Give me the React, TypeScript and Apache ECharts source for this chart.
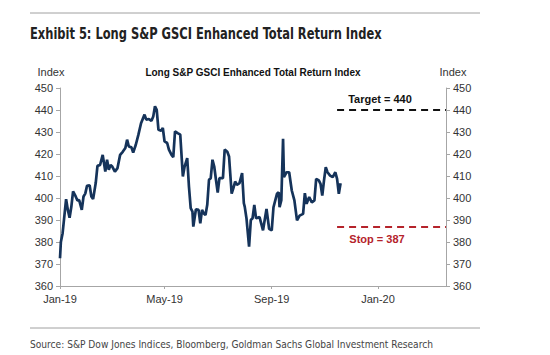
import React, { useEffect, useRef } from "react";
import * as echarts from "echarts";

const dates: string[] = [
  "2019-01-01","2019-01-02","2019-01-04","2019-01-08","2019-01-10","2019-01-12","2019-01-14","2019-01-16","2019-01-19","2019-01-21",
  "2019-01-23","2019-01-26","2019-01-28","2019-01-30","2019-02-01","2019-02-04","2019-02-06","2019-02-08","2019-02-11","2019-02-13",
  "2019-02-16","2019-02-19","2019-02-22","2019-02-24","2019-02-26","2019-02-28","2019-03-02","2019-03-05","2019-03-08","2019-03-11",
  "2019-03-14","2019-03-17","2019-03-19","2019-03-21","2019-03-24","2019-03-26","2019-03-29","2019-04-01","2019-04-04","2019-04-08",
  "2019-04-10","2019-04-13","2019-04-16","2019-04-18","2019-04-20","2019-04-22","2019-04-24","2019-04-27","2019-04-29","2019-05-01",
  "2019-05-04","2019-05-06","2019-05-09","2019-05-11","2019-05-13","2019-05-16","2019-05-19","2019-05-22","2019-05-24","2019-05-27",
  "2019-05-29","2019-05-31","2019-06-02","2019-06-03","2019-06-06","2019-06-09","2019-06-11","2019-06-13","2019-06-15","2019-06-17",
  "2019-06-19","2019-06-21","2019-06-23","2019-06-25","2019-06-27","2019-06-29","2019-07-01","2019-07-03","2019-07-07","2019-07-09",
  "2019-07-12","2019-07-14","2019-07-17","2019-07-19","2019-07-21","2019-07-23","2019-07-26","2019-07-29","2019-07-31","2019-08-01",
  "2019-08-03","2019-08-06","2019-08-08","2019-08-10","2019-08-12","2019-08-14","2019-08-18","2019-08-22","2019-08-26","2019-08-29",
  "2019-09-01","2019-09-03","2019-09-07","2019-09-09","2019-09-10","2019-09-12","2019-09-14","2019-09-15","2019-09-18","2019-09-21",
  "2019-09-24","2019-09-27","2019-09-30","2019-10-03","2019-10-07","2019-10-09","2019-10-11","2019-10-14","2019-10-17","2019-10-20",
  "2019-10-22","2019-10-25","2019-10-27","2019-10-29","2019-10-31","2019-11-02","2019-11-04","2019-11-07","2019-11-10","2019-11-13",
  "2019-11-15","2019-11-17","2019-11-19",
];

const indexValues: number[] = [
  372.6,380,384,399.5,394.6,391,396,403,400.7,398.9,
  399,394.6,400.7,402,405.5,405.8,400.7,399.5,406.8,414.6,
  415,419.6,412,417.4,412.8,415,414.3,412,413.6,419.6,
  421,422.7,426.5,423.4,423,420.7,424.2,428.8,434,437.9,
  435.6,435.9,435.1,437,441.7,440.1,431,430.6,431.8,425.7,
  425,422,419.6,418.6,430.3,429.5,428.8,409.8,414.3,418.1,
  405.2,395.4,393.8,387,394.9,394.6,388.5,394.6,393,392.3,
  396.9,408.3,409,417.4,414.3,408.3,402.5,409,409,422,
  421,418.9,402,404.5,407.5,406,406.8,411.3,397.6,396.1,
  390.8,377.9,390,390.8,396.9,390.8,391.3,385.3,395,386,
  385.3,395.8,401.9,402.6,395.8,399,426.9,409.5,411.7,411.7,
  403.4,398.9,389.8,392,392.8,402.2,397.4,400.4,398,398.9,
  408.7,408,406.4,401.1,408,414,411.7,410.2,409.5,411.7,
  408.7,401.9,406.7,
];

const xTickDates: string[] = ["2019-01-01", "2019-05-01", "2019-09-01", "2020-01-01"];
const xTickLabels: string[] = ["Jan-19", "May-19", "Sep-19", "Jan-20"];
const xMin = "2019-01-01";
const xMax = "2020-03-19";
const levelStart = "2019-11-15";
const targetLevel = 440;
const stopLevel = 387;

const yMin = 360;
const yMax = 450;
const yStep = 10;

const narrow = "'DejaVu Sans Condensed', 'Liberation Sans Narrow', sans-serif";
const sans = "'Liberation Sans', Arial, sans-serif";

const ts = (d: string) => new Date(d + "T00:00:00Z").getTime();

export default function App() {
  const ref = useRef<HTMLDivElement>(null);
  useEffect(() => {
    if (!ref.current) return;
    const chart = echarts.init(ref.current, null, { renderer: "svg" });
    const tickTs = xTickDates.map(ts);
    const yAxisBase = {
      type: "value",
      min: yMin,
      max: yMax,
      interval: yStep,
      splitLine: { show: false },
      axisLine: { show: true, lineStyle: { color: "#a6a6a6", width: 1 } },
      axisTick: { show: true, length: 4, lineStyle: { color: "#a6a6a6" } },
      axisLabel: { color: "#333", fontSize: 11, fontFamily: sans, margin: 7 },
    };
    chart.setOption({
      animation: false,
      backgroundColor: "#ffffff",
      grid: { left: 60, right: 104, top: 88, bottom: 69 },
      xAxis: {
        type: "value",
        min: ts(xMin),
        max: ts(xMax),
        splitLine: { show: false },
        axisLine: { show: true, onZero: false, lineStyle: { color: "#a6a6a6", width: 1 } },
        axisTick: { show: true, length: 3, customValues: tickTs, lineStyle: { color: "#a6a6a6" } },
        axisLabel: {
          color: "#333",
          fontSize: 11,
          fontFamily: sans,
          margin: 7,
          customValues: tickTs,
          formatter: (v: number) => {
            const i = tickTs.indexOf(v);
            return i >= 0 ? xTickLabels[i] : "";
          },
        },
      },
      yAxis: [
        { ...yAxisBase, position: "left" },
        { ...yAxisBase, position: "right" },
      ],
      series: [
        {
          type: "line",
          data: dates.map((d, i) => [ts(d), indexValues[i]]),
          showSymbol: false,
          symbol: "none",
          lineStyle: { color: "#15335a", width: 2.7 },
          markLine: {
            silent: true,
            symbol: "none",
            label: { show: false },
            data: [
              [
                { coord: [ts(levelStart), targetLevel], lineStyle: { color: "#111", type: [7, 5], width: 2 } },
                { coord: [ts(xMax), targetLevel] },
              ],
              [
                { coord: [ts(levelStart), stopLevel], lineStyle: { color: "#b5232b", type: [7, 5], width: 2 } },
                { coord: [ts(xMax), stopLevel] },
              ],
            ],
          },
        },
      ],
      graphic: [
        { type: "line", shape: { x1: 30, y1: 13, x2: 480, y2: 13 }, style: { stroke: "#a0a0a0", lineWidth: 1 } },
        { type: "line", shape: { x1: 30, y1: 328, x2: 480, y2: 328 }, style: { stroke: "#a0a0a0", lineWidth: 1 } },
        {
          type: "text", x: 30, y: 34, scaleX: 0.85,
          style: { text: "Exhibit 5: Long S&P GSCI Enhanced Total Return Index", fill: "#222", font: `bold 15px ${narrow}`, textVerticalAlign: "middle" },
        },
        {
          type: "text", x: 30, y: 344, scaleX: 0.92,
          style: { text: "Source: S&P Dow Jones Indices, Bloomberg, Goldman Sachs Global Investment Research", fill: "#444", font: `11px ${narrow}`, textVerticalAlign: "middle" },
        },
        {
          type: "text", x: 253, y: 72,
          style: { text: "Long S&P GSCI Enhanced Total Return Index", fill: "#111", font: `bold 10px ${sans}`, textAlign: "center", textVerticalAlign: "middle" },
        },
        {
          type: "text", x: 51, y: 72,
          style: { text: "Index", fill: "#333", font: `11px ${sans}`, textAlign: "center", textVerticalAlign: "middle" },
        },
        {
          type: "text", x: 453, y: 72,
          style: { text: "Index", fill: "#333", font: `11px ${sans}`, textAlign: "center", textVerticalAlign: "middle" },
        },
        {
          type: "text", x: 380, y: 99,
          style: { text: "Target = 440", fill: "#111", font: `bold 11px ${sans}`, textAlign: "center", textVerticalAlign: "middle" },
        },
        {
          type: "text", x: 377, y: 239,
          style: { text: "Stop = 387", fill: "#b5232b", font: `bold 11px ${sans}`, textAlign: "center", textVerticalAlign: "middle" },
        },
      ],
    });
    return () => chart.dispose();
  }, []);
  return (
    <div
      ref={ref}
      style={{ position: "fixed", left: 0, top: 0, width: 550, height: 355, background: "#fff" }}
    />
  );
}
